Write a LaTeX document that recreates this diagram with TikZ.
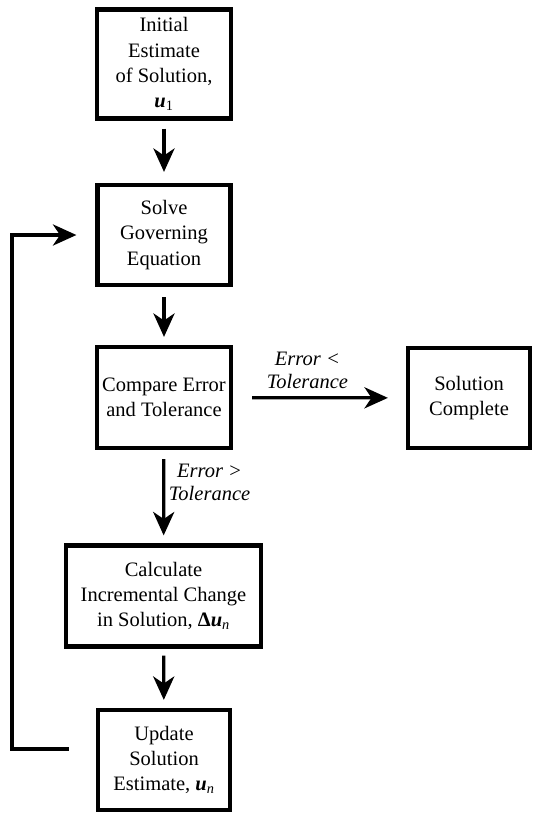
\documentclass[tikz,border=0pt]{standalone}
\usepackage{fontspec}
\setmainfont{Liberation Serif}
\usepackage{tikz}
\usetikzlibrary{positioning,calc,arrows.meta}

\tikzset{
    procbox/.style={draw, line width=3.6pt, align=center, inner sep=2pt,
        font=\fontsize{17.5}{21.5}\selectfont},
    flow/.style={line width=2.8pt, -{Stealth[length=20pt,width=18pt,inset=6pt]}},
    lbl/.style={font=\fontsize{17.5}{19.8}\selectfont\itshape, align=center, inner sep=2pt}
}
\newcommand{\vecu}{\textbf{\textit{u}}}

\begin{document}
\begin{tikzpicture}[x=0.03cm, y=-0.03cm]
    \useasboundingbox (0,0) rectangle (533,813);

    % Boxes
    \node[procbox, minimum width=4.02cm, minimum height=3.27cm] (init) at (164,64)
        {Initial\\Estimate\\of Solution,\\\vecu\textsubscript{1}};
    \node[procbox, minimum width=3.99cm, minimum height=3.0cm] (solve) at (164,235)
        {Solve\\Governing\\Equation};
    \node[procbox, minimum width=4.02cm, minimum height=3.03cm] (compare) at (164,397.5)
        {Compare Error\\and Tolerance};
    \node[procbox, minimum width=3.66cm, minimum height=3.0cm] (done) at (469,398)
        {Solution\\Complete};
    \node[procbox, minimum width=5.85cm, minimum height=3.03cm] (calc) at (163.5,596)
        {Calculate\\Incremental Change\\in Solution, \textbf{Δ}\vecu\textsubscript{\textit{n}}};
    \node[procbox, minimum width=3.96cm, minimum height=3.0cm] (update) at (164,760)
        {Update\\Solution\\Estimate, \vecu\textsubscript{\textit{n}}};

    % Main flow
    \draw[flow, shorten <=0.24cm, shorten >=0.33cm] (init) -- (solve);
    \draw[flow, shorten <=0.3cm, shorten >=0.24cm] (solve) -- (compare);
    \draw[flow, shorten <=0.57cm, shorten >=0.54cm] (compare) --
        node[lbl, pos=0.43, above=4pt] (lessLbl) {Error <\\Tolerance} (done);
    \draw[flow, shorten <=0.27cm, shorten >=0.24cm] (compare) --
        node[lbl, pos=0.35, right=1pt] (moreLbl) {Error >\\Tolerance} (calc);
    \draw[flow, shorten <=0.21cm, shorten >=0.24cm] (calc) -- (update);

    % Loop back
    \coordinate (loopStart) at ([shift={(-27,-11)}]update.west);
    \draw[flow, shorten >=0.57cm] (loopStart) -- ++(-57,0) |- (solve.west);
\end{tikzpicture}
\end{document}
